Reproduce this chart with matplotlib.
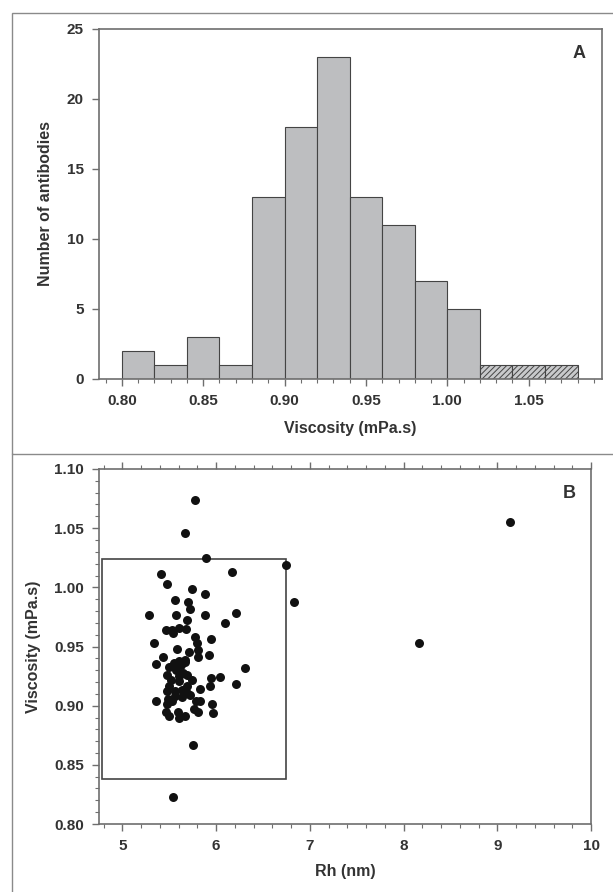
import numpy as np
import matplotlib
matplotlib.use('Agg')
from matplotlib import pyplot as plt
from matplotlib.patches import Rectangle
from matplotlib.lines import Line2D
from matplotlib.ticker import MultipleLocator

# histogram (panel A)
bin_left = [0.80, 0.82, 0.84, 0.86, 0.88, 0.90, 0.92, 0.94, 0.96, 0.98, 1.00, 1.02, 1.04, 1.06]
counts = [2, 1, 3, 1, 13, 18, 23, 13, 11, 7, 5, 1, 1, 1]
hatched = [False] * 11 + [True] * 3

# scatter (panel B)
rh = [5.776, 5.666, 5.896, 5.412, 5.480, 6.168, 5.744, 5.879, 5.565, 5.704,
      5.722, 5.287, 5.573, 5.879, 6.214, 5.693, 6.093, 5.469, 5.537, 5.608,
      5.679, 5.527, 5.776, 5.794, 5.943, 5.341, 5.587, 5.804, 5.708, 5.928,
      5.804, 5.437, 5.601, 5.666, 5.362, 6.307, 5.498, 5.615, 5.670, 5.480,
      5.573, 5.644, 5.519, 5.608, 5.687, 5.740, 5.947, 6.043, 5.936, 6.210,
      5.829, 5.473, 5.562, 5.633, 5.687, 5.490, 5.362, 5.527, 5.786, 5.829,
      5.954, 5.473, 5.765, 5.811, 5.466, 5.598, 5.501, 5.608, 5.669, 5.971,
      5.757, 5.544, 5.551, 5.622, 5.694, 5.500, 5.560, 5.640, 5.720, 5.600,
      9.138, 8.169, 6.748, 6.826]
visc = [1.0735, 1.0458, 1.0248, 1.011, 1.003, 1.013, 0.999, 0.994, 0.989, 0.9875,
        0.982, 0.977, 0.977, 0.977, 0.978, 0.972, 0.970, 0.964, 0.961, 0.966,
        0.965, 0.964, 0.958, 0.953, 0.9565, 0.953, 0.9475, 0.947, 0.945, 0.943,
        0.941, 0.941, 0.938, 0.939, 0.935, 0.932, 0.933, 0.9367, 0.937, 0.926,
        0.930, 0.928, 0.922, 0.925, 0.926, 0.922, 0.9235, 0.924, 0.917, 0.918,
        0.914, 0.912, 0.912, 0.913, 0.911, 0.906, 0.904, 0.904, 0.904, 0.904,
        0.901, 0.901, 0.897, 0.895, 0.895, 0.895, 0.891, 0.890, 0.8915, 0.894,
        0.867, 0.823, 0.936, 0.934, 0.917, 0.917, 0.908, 0.907, 0.909, 0.921,
        1.0553, 0.9528, 1.0192, 0.9879]

box_x = [4.785, 6.745]
box_y = [0.838, 1.024]

plt.rcParams['font.family'] = ['Liberation Sans', 'DejaVu Sans']
plt.rcParams['font.weight'] = 'bold'
plt.rcParams['hatch.color'] = '#9a9a9a'
plt.rcParams['hatch.linewidth'] = 0.7
txt = '#333333'
spine = '#6e6e6e'

fig = plt.figure(figsize=(6.13, 8.92), dpi=100)

# panel frames
fig.add_artist(Rectangle((12 / 613, 1 - 454 / 892), 1.2, 441 / 892, transform=fig.transFigure,
                         fill=False, edgecolor='#8a8a8a', lw=1.0))
fig.add_artist(Line2D([12 / 613, 12 / 613], [0, 1 - 454 / 892], transform=fig.transFigure,
                      color='#8a8a8a', lw=1.0))

# ---- panel A
ax1 = fig.add_axes([99 / 613, 1 - 379 / 892, 503 / 613, 350 / 892])
for x0, c, h in zip(bin_left, counts, hatched):
    if h:
        ax1.bar(x0, c, width=0.02, align='edge', color='#c8c9cb', edgecolor='#444444',
                lw=0.8, hatch='//////')
    else:
        ax1.bar(x0, c, width=0.02, align='edge', color='#bdbec0', edgecolor='#444444', lw=0.8)
ax1.set_xlim(0.786, 1.095)
ax1.set_ylim(0, 25)
ax1.xaxis.set_major_locator(MultipleLocator(0.05))
ax1.xaxis.set_minor_locator(MultipleLocator(0.01))
ax1.yaxis.set_major_locator(MultipleLocator(5))
ax1.xaxis.set_major_formatter(plt.FuncFormatter(lambda v, p: f'{v:.2f}'))
ax1.set_xlabel('Viscosity (mPa.s)', fontsize=11.5, color=txt, labelpad=9, fontweight='bold')
ax1.set_ylabel('Number of antibodies', fontsize=11.5, color=txt, labelpad=10, fontweight='bold')
ax1.text(0.954, 0.93, 'A', transform=ax1.transAxes, fontsize=13, color=txt,
         ha='center', va='center', fontweight='bold')

# ---- panel B
ax2 = fig.add_axes([99 / 613, 1 - 824 / 892, 492 / 613, 355 / 892])
ax2.add_patch(Rectangle((box_x[0], box_y[0]), box_x[1] - box_x[0], box_y[1] - box_y[0],
                        fill=False, edgecolor='#444444', lw=1.2, zorder=1))
ax2.scatter(rh, visc, s=42, color='#111111', zorder=3, linewidths=0)
ax2.set_xlim(4.75, 10)
ax2.set_ylim(0.80, 1.10)
ax2.xaxis.set_major_locator(MultipleLocator(1))
ax2.xaxis.set_minor_locator(MultipleLocator(0.2))
ax2.yaxis.set_major_locator(MultipleLocator(0.05))
ax2.yaxis.set_minor_locator(MultipleLocator(0.01))
ax2.yaxis.set_major_formatter(plt.FuncFormatter(lambda v, p: f'{v:.2f}'))
ax2.tick_params(axis='x', which='both', top=True)
ax2.set_xlabel('Rh (nm)', fontsize=11.5, color=txt, labelpad=8, fontweight='bold')
ax2.set_ylabel('Viscosity (mPa.s)', fontsize=11.5, color=txt, labelpad=9, fontweight='bold')
ax2.text(0.955, 0.932, 'B', transform=ax2.transAxes, fontsize=13, color=txt,
         ha='center', va='center', fontweight='bold')

for ax in (ax1, ax2):
    for s in ax.spines.values():
        s.set_color(spine)
        s.set_linewidth(1.2)
    ax.tick_params(which='major', direction='out', length=5, width=1, color=spine,
                   labelsize=11, labelcolor=txt, pad=6)
    ax.tick_params(which='minor', direction='out', length=3, width=0.8, color=spine)
    for lab in ax.get_xticklabels() + ax.get_yticklabels():
        lab.set_fontweight('bold')

plt.savefig('out.png', dpi=100)
